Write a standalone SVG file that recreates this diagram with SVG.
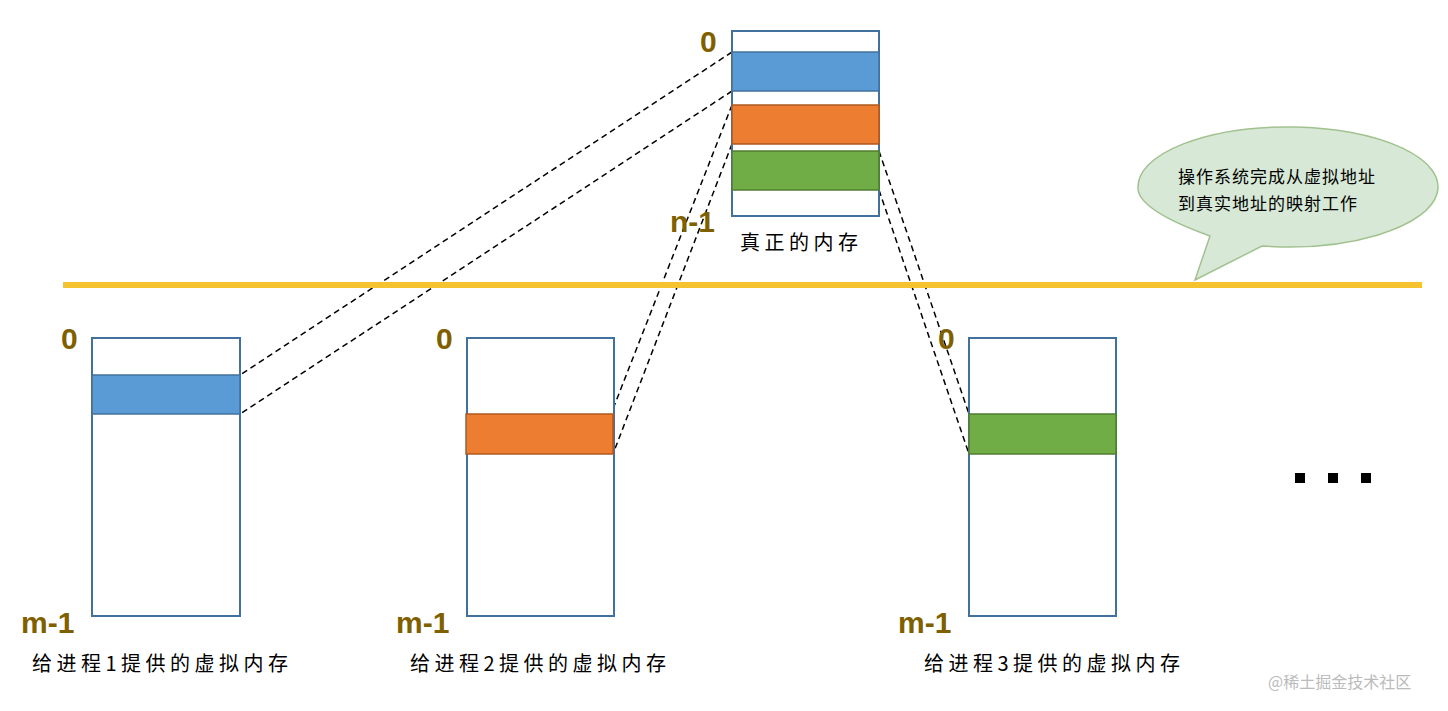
<svg xmlns="http://www.w3.org/2000/svg" width="1448" height="711" viewBox="0 0 1448 711">
<style>
.box{fill:#fff;stroke:#41719C;stroke-width:2}
.blue{fill:#5B9BD5;stroke:#41719C;stroke-width:1.5}
.orange{fill:#ED7D31;stroke:#AE5A21;stroke-width:1.5}
.green{fill:#70AD47;stroke:#507E32;stroke-width:1.5}
.num{font-family:"Liberation Sans","DejaVu Sans",sans-serif;font-weight:bold;font-size:30px;fill:#7F6000}
.cap{font-family:"Noto Sans CJK SC",sans-serif;font-size:20px;fill:#000;letter-spacing:4.5px}
.call{font-family:"Noto Sans CJK SC",sans-serif;font-size:17px;fill:#000;letter-spacing:1px}
.dash{stroke:#000;stroke-width:1.5;stroke-dasharray:6,4;fill:none}
</style>
<rect width="1448" height="711" fill="#fff"/>
<g id="connectors">
<line class="dash" x1="732" y1="52" x2="240" y2="375"/>
<line class="dash" x1="732" y1="91" x2="240" y2="414"/>
<line class="dash" x1="732" y1="105" x2="611" y2="414"/>
<line class="dash" x1="732" y1="144" x2="613" y2="454"/>
<line class="dash" x1="879" y1="151" x2="969" y2="414"/>
<line class="dash" x1="879" y1="190" x2="969" y2="454"/>
</g>
<g id="divider"><line x1="63" y1="285" x2="1422" y2="285" stroke="#F5C230" stroke-width="6"/></g>
<g id="real-memory">
<rect class="box" x="732" y="31" width="147" height="185"/>
<rect class="blue" x="732" y="52" width="147" height="39"/>
<rect class="orange" x="732" y="105" width="147" height="39"/>
<rect class="green" x="732" y="151" width="147" height="39"/>
<text class="num" x="700" y="52">0</text>
<text class="num" x="670" y="232">n-1</text>
<text class="cap" x="740" y="250">真正的内存</text>
</g>
<g id="callout">
<path d="M1210,236 Q1138,210 1138,188 A150,60 0 1 1 1262,246 L1195,280 Z" fill="#D5E8D4" stroke="#9DBF8A" stroke-width="1.5" opacity="0.95"/>
<text class="call" x="1178" y="183">操作系统完成从虚拟地址</text>
<text class="call" x="1178" y="210">到真实地址的映射工作</text>
</g>
<g id="vm1">
<rect class="box" x="92" y="338" width="148" height="278"/>
<rect class="blue" x="92" y="375" width="148" height="39"/>
<text class="num" x="61" y="349">0</text>
<text class="num" x="21" y="633">m-1</text>
<text class="cap" x="32" y="671">给进程1提供的虚拟内存</text>
</g>
<g id="vm2">
<rect class="box" x="467" y="338" width="147" height="278"/>
<rect class="orange" x="466" y="414" width="147" height="40"/>
<text class="num" x="436" y="349">0</text>
<text class="num" x="396" y="633">m-1</text>
<text class="cap" x="410" y="671">给进程2提供的虚拟内存</text>
</g>
<g id="vm3">
<rect class="box" x="969" y="338" width="147" height="278"/>
<rect class="green" x="969" y="414" width="147" height="40"/>
<text class="num" x="938" y="349">0</text>
<text class="num" x="898" y="633">m-1</text>
<text class="cap" x="924" y="671">给进程3提供的虚拟内存</text>
</g>
<g id="ellipsis" fill="#000">
<rect x="1295" y="473" width="10" height="10"/>
<rect x="1328" y="473" width="10" height="10"/>
<rect x="1361" y="473" width="10" height="10"/>
</g>
<text x="1268" y="688" font-family="Noto Sans CJK SC,sans-serif" font-size="16" fill="#bbb">@稀土掘金技术社区</text>
</svg>
